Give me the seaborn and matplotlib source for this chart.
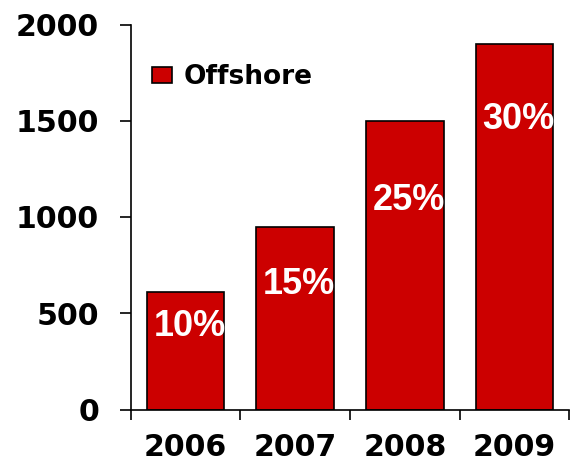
import matplotlib
matplotlib.use("Agg")
import matplotlib.pyplot as plt
import seaborn as sns
from matplotlib.ticker import FixedLocator, NullFormatter

# Rig counts per year and the offshore share printed inside each bar
years = ["2006", "2007", "2008", "2009"]
rigs = [612, 948, 1500, 1900]
shares = ["10%", "15%", "25%", "30%"]
share_label_y = [432, 649, 1085, 1505]
y_ticks = [0, 500, 1000, 1500, 2000]

sns.set_style("white")
plt.rcParams["font.family"] = ["DejaVu Sans"]
plt.rcParams["text.color"] = "black"

DPI = 100
W, H = 570, 466
fig = plt.figure(figsize=(W / DPI, H / DPI), dpi=DPI)

# axes rectangle in pixels
left_px, right_px = 130.7, 569.3
top_px, bottom_px = 24.5, 409.5
ax = fig.add_axes([left_px / W, (H - bottom_px) / H,
                   (right_px - left_px) / W, (bottom_px - top_px) / H])

sns.barplot(x=years, y=rigs, color="#CC0000", saturation=1,
            edgecolor="black", linewidth=1.2, width=0.71,
            label="Offshore", ax=ax)

ax.set_xlim(-0.5, len(years) - 0.5)
ax.set_ylim(0, 2000)
ax.set_yticks(y_ticks)
ax.set_yticklabels([str(v) for v in y_ticks])
ax.set_xlabel("")
ax.set_ylabel("")

for side in ("top", "right"):
    ax.spines[side].set_visible(False)
for side in ("left", "bottom"):
    ax.spines[side].set_color("black")
    ax.spines[side].set_linewidth(1.2)

# year labels at bar centres, tick marks at category boundaries
ax.set_xticks(range(len(years)))
ax.set_xticklabels(years)
ax.xaxis.set_minor_locator(FixedLocator([i - 0.5 for i in range(len(years) + 1)]))
ax.xaxis.set_minor_formatter(NullFormatter())
ax.tick_params(axis="x", which="major", length=0, pad=17,
               labelsize=21.6, labelcolor="black")
ax.tick_params(axis="x", which="minor", length=7.5, width=1.2,
               color="black", direction="out", bottom=True)
ax.tick_params(axis="y", which="major", length=8, width=1.2, color="black",
               direction="out", left=True, pad=14.9, labelsize=21.6,
               labelcolor="black")
for lab in ax.get_xticklabels() + ax.get_yticklabels():
    lab.set_fontweight("bold")

# offshore share inside each bar
for i, (txt, yv) in enumerate(zip(shares, share_label_y)):
    ax.annotate(txt, xy=(i, yv), xytext=(3, 0), textcoords="offset points",
                ha="center", va="center", color="white", fontsize=26,
                fontweight="bold", family=["Liberation Sans", "DejaVu Sans"],
                annotation_clip=False)

leg = ax.legend(loc="upper left", bbox_to_anchor=(152 / W, 1 - 64 / H),
                bbox_transform=fig.transFigure, frameon=False,
                borderpad=0, borderaxespad=0, handlelength=0.75,
                handleheight=0.55, handletextpad=0.45,
                labelcolor="black",
                prop={"weight": "bold", "size": 19})

fig.savefig("out.png", dpi=DPI)
